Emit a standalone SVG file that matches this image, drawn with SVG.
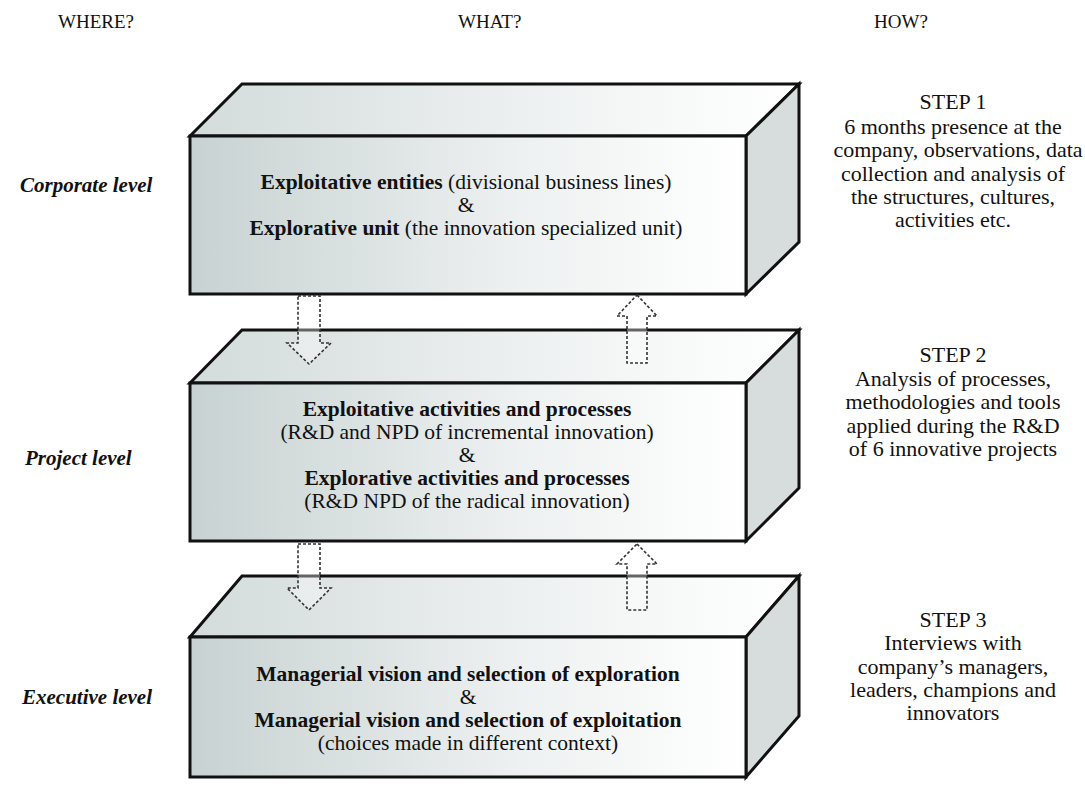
<svg xmlns="http://www.w3.org/2000/svg" width="1085" height="787" viewBox="0 0 1085 787">
<defs>
<linearGradient id="gFront" x1="0" y1="0" x2="1" y2="0">
<stop offset="0" stop-color="#c8d2d2"/>
<stop offset="0.6" stop-color="#eef1f1"/>
<stop offset="1" stop-color="#ffffff"/>
</linearGradient>
<linearGradient id="gTop" x1="0" y1="0" x2="1" y2="0">
<stop offset="0" stop-color="#d3dbdb"/>
<stop offset="0.7" stop-color="#f4f6f6"/>
<stop offset="1" stop-color="#ffffff"/>
</linearGradient>
<style>
.face{stroke:#111;stroke-width:3;stroke-linejoin:miter}
.front{fill:url(#gFront)}
.top{fill:url(#gTop)}
.side{fill:#d6dddc}
text{font-family:"Liberation Serif","Times New Roman",serif;fill:#111}
.hd{font-size:19px}
.lvl{font-size:21px;font-weight:bold;font-style:italic}
.bx{font-size:21.5px;text-anchor:middle}
.b{font-weight:bold}
.st{font-size:22px;text-anchor:middle}
.arr{fill:#ffffff;fill-opacity:0.35;stroke:#333;stroke-width:1.6;stroke-dasharray:3 2}
</style>
</defs>
<rect width="1085" height="787" fill="#ffffff"/>

<g id="headers">
<text class="hd" x="58" y="28">WHERE?</text>
<text class="hd" x="458" y="28">WHAT?</text>
<text class="hd" x="874" y="28">HOW?</text>
</g>

<g id="box1">
<polygon class="face top" points="190,136 242,84 799,84 746,136"/>
<polygon class="face side" points="746,136 799,84 799,242 746,294"/>
<rect class="face front" x="190" y="136" width="556" height="158"/>
<text class="bx" x="466" y="189"><tspan class="b">Exploitative entities</tspan> (divisional business lines)</text>
<text class="bx" x="466" y="212">&amp;</text>
<text class="bx" x="466" y="235"><tspan class="b">Explorative unit</tspan> (the innovation specialized unit)</text>
</g>

<g id="box2">
<polygon class="face top" points="190,383 242,330 799,330 746,383"/>
<polygon class="face side" points="746,383 799,330 799,488 746,541"/>
<rect class="face front" x="190" y="383" width="556" height="158"/>
<text class="bx b" x="467" y="416">Exploitative activities and processes</text>
<text class="bx" x="467" y="439">(R&amp;D and NPD of incremental innovation)</text>
<text class="bx" x="467" y="462">&amp;</text>
<text class="bx b" x="467" y="485">Explorative activities and processes</text>
<text class="bx" x="467" y="508">(R&amp;D NPD of the radical innovation)</text>
</g>

<g id="box3">
<polygon class="face top" points="190,637 242,576 799,576 746,637"/>
<polygon class="face side" points="746,637 799,576 799,716 746,777"/>
<rect class="face front" x="190" y="637" width="556" height="140"/>
<text class="bx b" x="468" y="681">Managerial vision and selection of exploration</text>
<text class="bx" x="468" y="704">&amp;</text>
<text class="bx b" x="468" y="727">Managerial vision and selection of exploitation</text>
<text class="bx" x="468" y="750">(choices made in different context)</text>
</g>

<g id="connectors">
<path class="arr" d="M298,296 L320,296 L320,343 L331,343 L309,364 L287,343 L298,343 Z"/>
<path class="arr" d="M637,295 L657,316 L647,316 L647,363 L627,363 L627,316 L617,316 Z"/>
<path class="arr" d="M298,544 L320,544 L320,588 L331,588 L309,610 L287,588 L298,588 Z"/>
<path class="arr" d="M637,544 L657,564 L647,564 L647,610 L627,610 L627,564 L617,564 Z"/>
</g>

<g id="levels">
<text class="lvl" x="20" y="192">Corporate level</text>
<text class="lvl" x="25" y="465">Project level</text>
<text class="lvl" x="22" y="704">Executive level</text>
</g>

<g id="steps">
<text class="st" x="953" y="109">STEP 1</text>
<text class="st" x="953" y="134">6 months presence at the</text>
<text class="st" x="958" y="157">company, observations, data</text>
<text class="st" x="953" y="181">collection and  analysis of</text>
<text class="st" x="953" y="204">the  structures, cultures,</text>
<text class="st" x="953" y="227">activities etc.</text>
<text class="st" x="953" y="362">STEP 2</text>
<text class="st" x="953" y="386">Analysis of processes,</text>
<text class="st" x="953" y="409">methodologies and tools</text>
<text class="st" x="953" y="433">applied during the R&amp;D</text>
<text class="st" x="953" y="456">of 6 innovative projects</text>
<text class="st" x="953" y="627">STEP 3</text>
<text class="st" x="953" y="650">Interviews with</text>
<text class="st" x="953" y="674">company’s managers,</text>
<text class="st" x="953" y="697">leaders, champions and</text>
<text class="st" x="953" y="720">innovators</text>
</g>
</svg>
